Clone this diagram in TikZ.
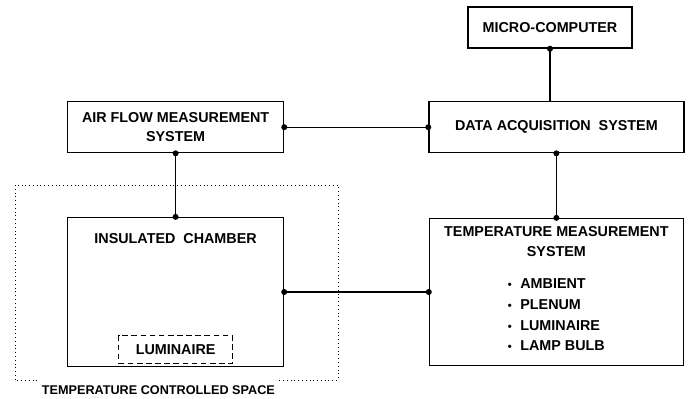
\documentclass[tikz,border=0pt]{standalone}
\usepackage{fontspec}
\setmainfont{Liberation Sans}
\usepackage{tikz}
\usetikzlibrary{positioning}
\renewcommand{\arraystretch}{1.06}

\begin{document}
\begin{tikzpicture}[
  blk/.style={draw=black, line width=0.9pt, minimum width=5.4cm, minimum height=1.275cm, align=center, inner sep=2pt, font=\bfseries\fontsize{10.2}{14}\selectfont},
  txt/.style={inner sep=0pt, align=center, font=\bfseries\fontsize{10.2}{14}\selectfont},
  lum/.style={draw=black, line width=0.9pt, dash pattern=on 4pt off 2.5pt, minimum width=2.85cm, minimum height=0.7cm, inner sep=0pt, font=\bfseries\fontsize{10.2}{14}\selectfont},
  wire/.style={line width=0.8pt},
  tcsline/.style={line width=0.7pt, dotted}
]
  \useasboundingbox (0,0) rectangle (17.225,9.95);

  \node[blk, minimum width=4.1cm, minimum height=1.025cm] (micro) at (13.75,9.26) {MICRO-COMPUTER};
  \node[blk, minimum width=6.375cm] (das) at (13.91,6.77) {DATA ACQUISITION\ \ SYSTEM};
  \node[blk] (afms) at (4.39,6.77) {AIR FLOW MEASUREMENT\\SYSTEM};
  \node[blk, minimum width=6.35cm, minimum height=3.675cm] (tms) at (13.91,2.65)
    {TEMPERATURE MEASUREMENT\\SYSTEM\\[8.6pt]
     \begin{tabular}[t]{@{}l@{}}
       {\footnotesize\textbullet}\hspace{6pt}AMBIENT\\
       {\footnotesize\textbullet}\hspace{6pt}PLENUM\\
       {\footnotesize\textbullet}\hspace{6pt}LUMINAIRE\\
       {\footnotesize\textbullet}\hspace{6pt}LAMP BULB
     \end{tabular}};
  \node[blk, minimum height=3.725cm] (chamber) at (4.39,2.65) {};
  \node[txt, below=0.4cm of chamber.north] (chtitle) {INSULATED\ \ CHAMBER};
  \node[lum, above=2pt of chamber.south] (lumin) {LUMINAIRE};

  % temperature controlled space
  \coordinate (tcsbl) at (0.375,0.45);
  \coordinate (tcstr) at (8.45,5.325);
  \node[inner xsep=3pt, inner ysep=0pt, font=\bfseries\fontsize{9}{11}\selectfont] (tcslab) at (3.96,0.2) {TEMPERATURE CONTROLLED SPACE};
  \draw[tcsline] (tcslab.west |- tcsbl) -- (tcsbl) -- (tcsbl |- tcstr) -- (tcstr) -- (tcstr |- tcsbl) -- (tcslab.east |- tcsbl);

  \draw[wire] (micro.south) -- (micro.south |- das.north);
  \draw[wire] (afms.east) -- (das.west);
  \draw[wire] (das.south) -- (tms.north);
  \draw[wire] (afms.south) -- (chamber.north);
  \draw[wire] (chamber.east) -- (tms.west);

  \foreach \p in {micro.south, afms.east, das.west, das.south, tms.north, afms.south, chamber.north, chamber.east, tms.west}
    \fill (\p) circle (0.075);
\end{tikzpicture}
\end{document}
